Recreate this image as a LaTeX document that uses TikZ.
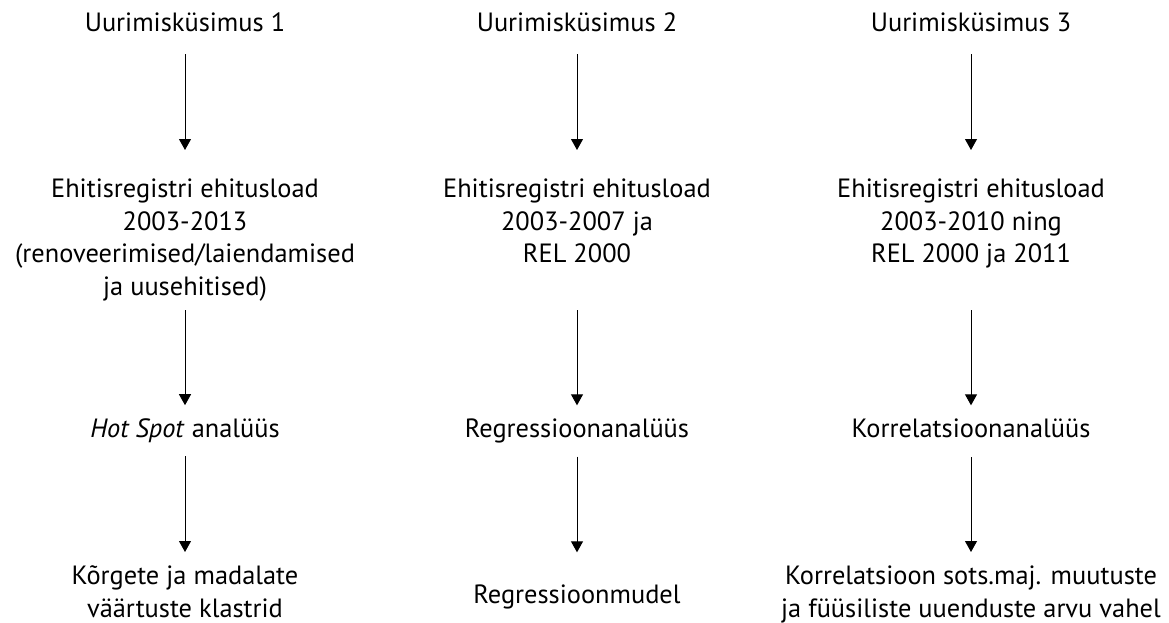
\documentclass[tikz,border=0pt]{standalone}
\usepackage{fontspec}
\setmainfont{PT Sans}
\usetikzlibrary{arrows.meta}

\begin{document}
\begin{tikzpicture}[x=1pt, y=-1pt,
    font=\fontsize{26.4}{32.5}\selectfont,
    txt/.style={inner sep=0pt, outer sep=0pt, align=center},
    flow/.style={-{Triangle[length=11pt, width=12pt]}, line width=1pt}]

    % Fix the frame of the picture
    \useasboundingbox (0,0) rectangle (1169,623);

    % First column
    \node[txt, anchor=base]  (q1) at (185,32)  {Uurimisküsimus 1};
    \node[txt, anchor=north] (d1) at (185,179) {Ehitisregistri ehitusload\\2003-2013\\(renoveerimised/laiendamised\\ja uusehitised)};
    \node[txt, anchor=base]  (m1) at (185,437) {\textit{Hot Spot} analüüs};
    \node[txt, anchor=north] (r1) at (185,566) {Kõrgete ja madalate\\väärtuste klastrid};

    % Second column
    \node[txt, anchor=base]  (q2) at (577,32)  {Uurimisküsimus 2};
    \node[txt, anchor=north] (d2) at (577,179) {Ehitisregistri ehitusload\\2003-2007 ja\\REL 2000};
    \node[txt, anchor=base]  (m2) at (577,437) {Regressioonanalüüs};
    \node[txt, anchor=base]  (r2) at (577,603) {Regressioonmudel};

    % Third column
    \node[txt, anchor=base]  (q3) at (971,32)  {Uurimisküsimus 3};
    \node[txt, anchor=north] (d3) at (971,179) {Ehitisregistri ehitusload\\2003-2010 ning\\REL 2000 ja 2011};
    \node[txt, anchor=base]  (m3) at (971,437) {Korrelatsioonanalüüs};
    \node[txt, anchor=north] (r3) at (971,566) {Korrelatsioon sots.maj. muutuste\\ja füüsiliste uuenduste arvu vahel};

    % Arrows from question to data
    \draw[flow, shorten <=22pt, shorten >=29pt] (q1) -- (d1);
    \draw[flow, shorten <=22pt, shorten >=29pt] (q2) -- (d2);
    \draw[flow, shorten <=22pt, shorten >=29pt] (q3) -- (d3);

    % Arrows from data to method
    \draw[flow, shorten <=9pt, shorten >=13pt] (d1) -- (m1);
    \draw[flow, shorten <=47pt, shorten >=13pt] (d2) -- (m2);
    \draw[flow, shorten <=42pt, shorten >=13pt] (d3) -- (m3);

    % Arrows from method to result
    \draw[flow, shorten <=14pt, shorten >=14pt] (m1) -- (r1);
    \draw[flow, shorten <=14pt, shorten >=32pt] (m2) -- (r2);
    \draw[flow, shorten <=20pt, shorten >=14pt] (m3) -- (r3);

\end{tikzpicture}
\end{document}
